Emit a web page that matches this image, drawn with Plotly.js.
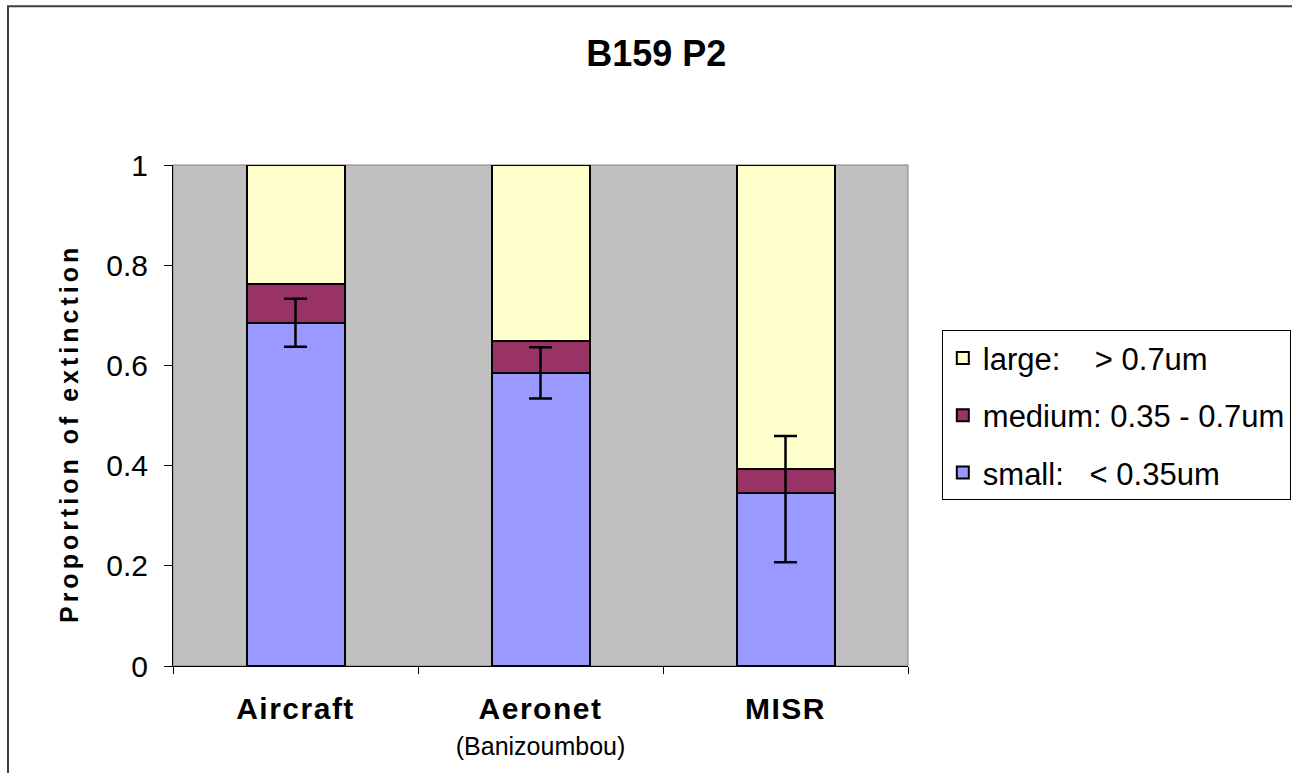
<!DOCTYPE html>
<html>
<head>
<meta charset="utf-8">
<script src="https://cdn.plot.ly/plotly-3.0.1.min.js"></script>
<style>
html,body{margin:0;padding:0;background:#fff;}
#chart{width:1292px;height:773px;}
#chart .annotation-text{letter-spacing:4px;}
#chart .xtick text{letter-spacing:1.5px;}
</style>
</head>
<body>
<div id="chart"></div>
<script>
const categories = ["Aircraft", "Aeronet", "MISR"];
const tickLabels = [
  "<span style='font-size:30px'><b>Aircraft</b></span>",
  "<span style='font-size:30px'><b>Aeronet</b></span><br><span style='font-size:25px;letter-spacing:0px'>(Banizoumbou)</span>",
  "<span style='font-size:30px'><b>MISR</b></span>"
];
const small = [0.685, 0.584, 0.345];
const medium = [0.077, 0.065, 0.048];
const large = [0.238, 0.351, 0.607];
const smallErrPlus = [0.048, 0.052, 0.114];
const smallErrMinus = [0.048, 0.050, 0.138];
const seriesNames = ["small:\u00a0\u00a0\u00a0< 0.35um", "medium: 0.35 - 0.7um", "large:\u00a0\u00a0\u00a0\u00a0> 0.7um"];
const colors = ["#9999FF", "#993366", "#FFFFCC"];
const yTitle = "<b>Proportion of extinction</b>";

const font = {family: "Liberation Sans, Arial, sans-serif", color: "#000"};
const barLine = {color: "#000", width: 2};

const traces = [
  {type: "bar", x: categories, y: small, name: seriesNames[0], legendgroup: "s", legendrank: 3, marker: {color: colors[0], line: barLine}},
  {type: "bar", x: categories, y: medium, name: seriesNames[1], legendgroup: "m", legendrank: 2, marker: {color: colors[1], line: barLine}},
  {type: "bar", x: categories, y: large, name: seriesNames[2], legendgroup: "l", legendrank: 1, marker: {color: colors[2], line: barLine}},
  {type: "scatter", mode: "markers", x: categories, y: small, showlegend: false, hoverinfo: "skip",
   marker: {size: 1, opacity: 0},
   error_y: {type: "data", symmetric: false, array: smallErrPlus, arrayminus: smallErrMinus, color: "#000", thickness: 2.5, width: 11.5}}
];

const layout = {
  width: 1292, height: 773,
  margin: {l: 173, r: 384, t: 165, b: 107, autoexpand: false},
  barmode: "stack",
  bargap: 0.6,
  paper_bgcolor: "#fff",
  plot_bgcolor: "#C0C0C0",
  font: Object.assign({size: 24}, font),
  title: {text: "<b>B159 P2</b>", font: Object.assign({size: 36}, font), x: 0.508, xanchor: "center", y: 0.931, yanchor: "middle"},
  showlegend: true,
  legend: {
    traceorder: "grouped",
    x: 1.046, xanchor: "left", y: 0.67, yanchor: "top",
    bordercolor: "#000", borderwidth: 1, bgcolor: "#fff",
    font: Object.assign({size: 31}, font),
    tracegroupgap: 14, itemsizing: "constant"
  },
  xaxis: {
    type: "category",
    tickvals: categories, ticktext: tickLabels,
    tickson: "boundaries", ticks: "outside", ticklen: 7, tickcolor: "#000", tickwidth: 1,
    showline: true, linecolor: "#000", linewidth: 1,
    showgrid: false, zeroline: false,
    tickfont: Object.assign({size: 27}, font),
    ticklabelstandoff: 20,
    range: [-0.5, 2.5]
  },
  yaxis: {
    range: [0, 1], tickvals: [0, 0.2, 0.4, 0.6, 0.8, 1], ticktext: ["0", "0.2", "0.4", "0.6", "0.8", "1"],
    ticks: "outside", ticklen: 8, tickcolor: "#000", tickwidth: 1,
    showline: true, linecolor: "#000", linewidth: 1,
    showgrid: false, zeroline: false,
    tickfont: Object.assign({size: 30}, font),
    ticklabelstandoff: 10
  },
  annotations: [
    {text: yTitle, xref: "paper", yref: "paper", x: -0.1415, y: 0.465, xanchor: "center", yanchor: "middle",
     textangle: -90, showarrow: false, font: Object.assign({size: 25}, font)}
  ],
  shapes: [
    {type: "rect", xref: "paper", yref: "paper", x0: 0, x1: 1, y0: 0, y1: 1, line: {color: "#808080", width: 1}, layer: "below"},
    {type: "rect", xref: "paper", yref: "paper", x0: -0.2245, x1: 1.7, y0: -0.4, y1: 1.317, line: {color: "#404040", width: 2}}
  ]
};

Plotly.newPlot("chart", traces, layout, {displayModeBar: false, staticPlot: true});
</script>
</body>
</html>
